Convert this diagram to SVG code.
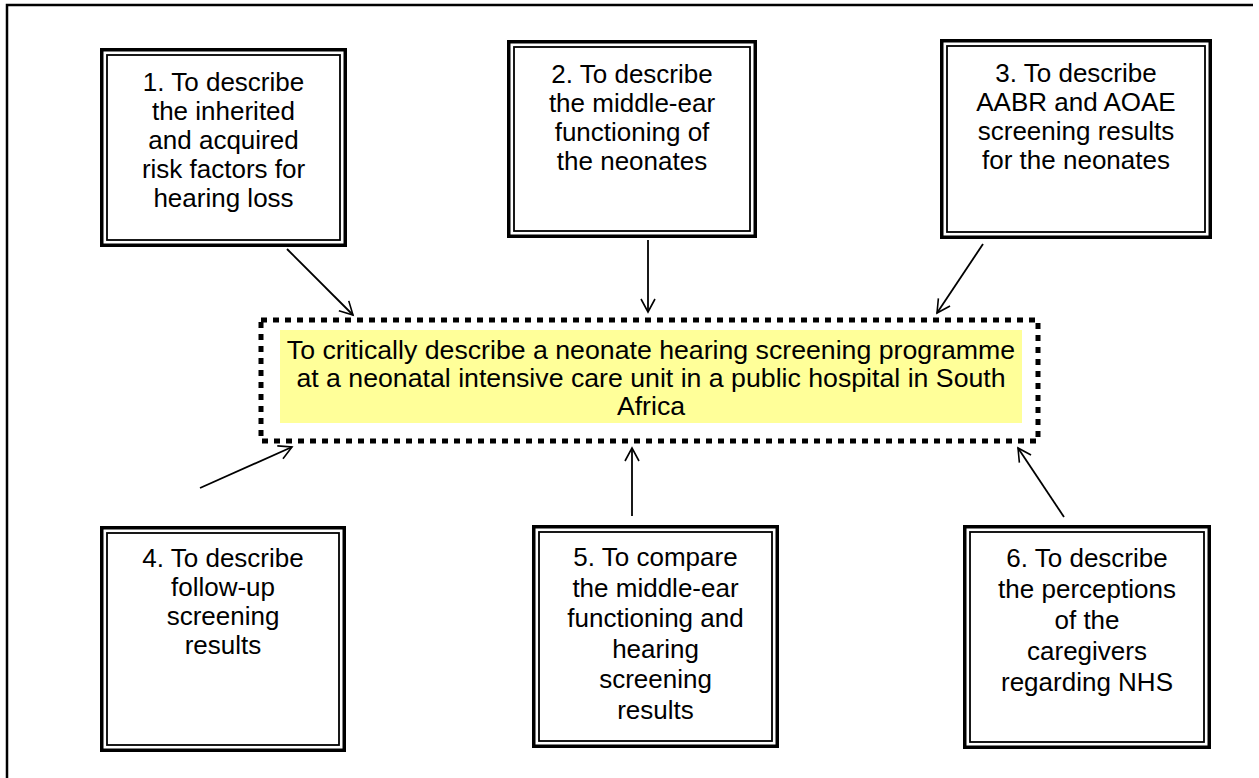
<svg xmlns="http://www.w3.org/2000/svg" width="1259" height="778" viewBox="0 0 1259 778">
<defs>
<marker id="arr" markerUnits="userSpaceOnUse" markerWidth="20" markerHeight="20" refX="14" refY="10" orient="auto" overflow="visible">
<path d="M1,3 L14,10 L1,17" fill="none" stroke="#000" stroke-width="1.6"/>
</marker>
</defs>
<style>
.bg{fill:#fff}
.frame{fill:none;stroke:#000;stroke-width:2.5}
.o{fill:#fff;stroke:#000;stroke-width:3.5}
.i{fill:none;stroke:#000;stroke-width:1.8}
.t{font-family:"Liberation Sans",Arial,sans-serif;font-size:26px;fill:#000;text-anchor:middle}
.tc{font-size:26.7px}
.dot{fill:none;stroke:#000;stroke-width:5;stroke-dasharray:6 6}
.hl{fill:#ffff99}
.c{fill:none;stroke:#000;stroke-width:1.8}
</style>
<rect class="bg" x="0" y="0" width="1259" height="778"/>
<path class="frame" d="M7,778 V5 H1253"/>

<g id="connectors">
<line class="c" x1="287" y1="249" x2="353" y2="315" marker-end="url(#arr)"/>
<line class="c" x1="648" y1="240" x2="648" y2="312" marker-end="url(#arr)"/>
<line class="c" x1="983" y1="244" x2="937" y2="313" marker-end="url(#arr)"/>
<line class="c" x1="200" y1="488" x2="292" y2="447" marker-end="url(#arr)"/>
<line class="c" x1="632" y1="516" x2="632" y2="448" marker-end="url(#arr)"/>
<line class="c" x1="1064" y1="517" x2="1018" y2="448" marker-end="url(#arr)"/>
</g>

<g id="center">
<rect class="dot" x="261" y="320" width="777" height="121"/>
<rect class="hl" x="280" y="330" width="742" height="93"/>
<text class="t tc"><tspan x="651" y="359">To critically describe a neonate hearing screening programme</tspan><tspan x="651" y="387">at a neonatal intensive care unit in a public hospital in South</tspan><tspan x="651" y="415">Africa</tspan></text>
</g>

<g id="n1">
<rect class="o" x="101.75" y="49.75" width="243.5" height="195.5"/>
<rect class="i" x="107" y="55" width="233" height="185"/>
<text class="t"><tspan x="223.5" y="91">1. To describe</tspan><tspan x="223.5" y="120">the inherited</tspan><tspan x="223.5" y="149">and acquired</tspan><tspan x="223.5" y="178">risk factors for</tspan><tspan x="223.5" y="207">hearing loss</tspan></text>
</g>

<g id="n2">
<rect class="o" x="508.75" y="41.75" width="246.5" height="194.5"/>
<rect class="i" x="514" y="47" width="236" height="184"/>
<text class="t"><tspan x="632" y="83">2. To describe</tspan><tspan x="632" y="112">the middle-ear</tspan><tspan x="632" y="141">functioning of</tspan><tspan x="632" y="170">the neonates</tspan></text>
</g>

<g id="n3">
<rect class="o" x="941.75" y="40.75" width="268.5" height="196.5"/>
<rect class="i" x="947" y="46" width="258" height="186"/>
<text class="t"><tspan x="1076" y="82">3. To describe</tspan><tspan x="1076" y="111">AABR and AOAE</tspan><tspan x="1076" y="140">screening results</tspan><tspan x="1076" y="169">for the neonates</tspan></text>
</g>

<g id="n4">
<rect class="o" x="101.75" y="527.75" width="242.5" height="222.5"/>
<rect class="i" x="107" y="533" width="232" height="212"/>
<text class="t"><tspan x="223" y="567">4. To describe</tspan><tspan x="223" y="596">follow-up</tspan><tspan x="223" y="625">screening</tspan><tspan x="223" y="654">results</tspan></text>
</g>

<g id="n5">
<rect class="o" x="533.75" y="526.75" width="243.5" height="219.5"/>
<rect class="i" x="539" y="532" width="233" height="209"/>
<text class="t"><tspan x="655.5" y="566">5. To compare</tspan><tspan x="655.5" y="596.5">the middle-ear</tspan><tspan x="655.5" y="627">functioning and</tspan><tspan x="655.5" y="657.5">hearing</tspan><tspan x="655.5" y="688">screening</tspan><tspan x="655.5" y="718.5">results</tspan></text>
</g>

<g id="n6">
<rect class="o" x="964.75" y="526.75" width="244.5" height="220.5"/>
<rect class="i" x="970" y="532" width="234" height="210"/>
<text class="t"><tspan x="1087" y="567">6. To describe</tspan><tspan x="1087" y="598">the perceptions</tspan><tspan x="1087" y="629">of the</tspan><tspan x="1087" y="660">caregivers</tspan><tspan x="1087" y="691">regarding NHS</tspan></text>
</g>
</svg>
